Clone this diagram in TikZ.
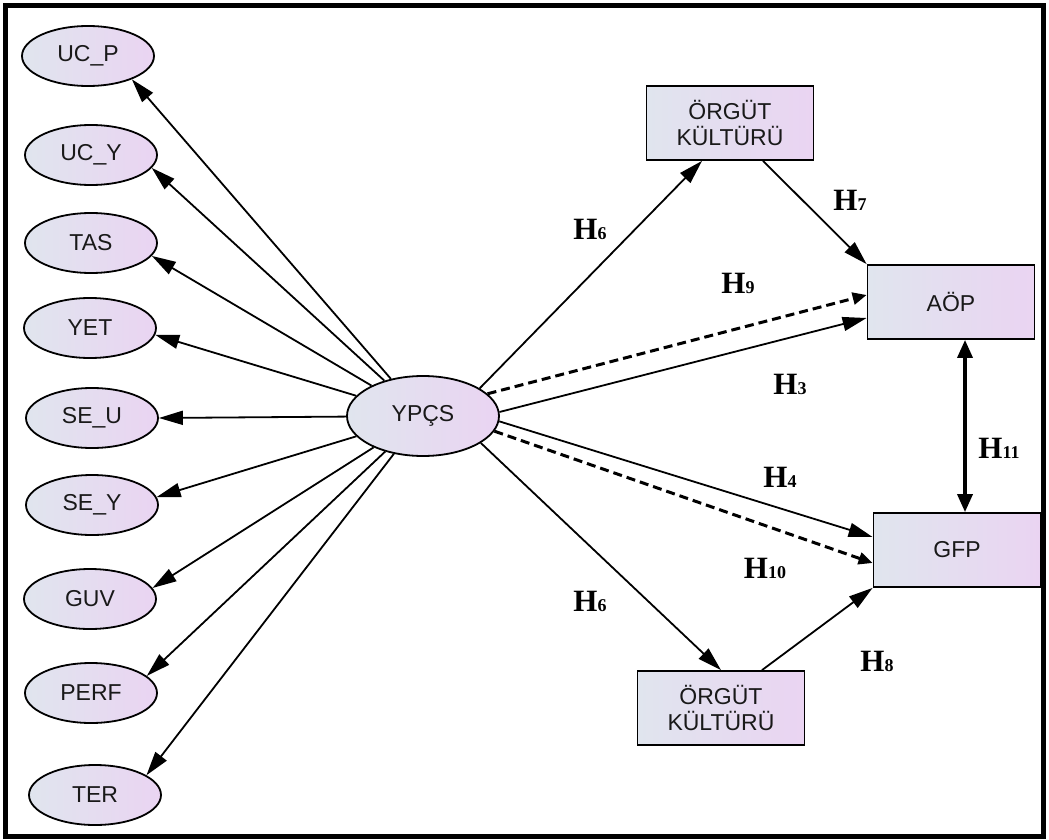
\documentclass[tikz,border=0pt]{standalone}
\usepackage{fontspec}
\setmainfont{Liberation Serif}
\setsansfont{Liberation Sans}
\usetikzlibrary{shapes.geometric,arrows.meta}
\definecolor{fillL}{RGB}{224,229,238}
\definecolor{fillR}{RGB}{234,212,242}
\definecolor{txt}{RGB}{25,25,25}
\newcommand\Hsub[1]{H{\fontsize{18}{18}\selectfont#1}}
\tikzset{
  latent/.style={ellipse, draw, line width=1.8pt, inner sep=0pt,
    minimum width=132pt, minimum height=60pt, left color=fillL, right color=fillR,
    font=\sffamily\fontsize{23}{26}\selectfont, text=txt},
  observed/.style={rectangle, draw, line width=1.8pt, inner sep=0pt,
    minimum width=167pt, minimum height=74pt, left color=fillL, right color=fillR,
    align=center, font=\sffamily\fontsize{23}{26}\selectfont, text=txt},
  path/.style={line width=1.8pt, -{Triangle[length=24pt,width=14pt]}},
  dpath/.style={line width=3pt, dash pattern=on 9pt off 5pt, -{Triangle[length=14pt,width=12pt]}},
  corr/.style={line width=3.5pt, {Triangle[length=18pt,width=15pt]}-{Triangle[length=18pt,width=15pt]}},
  hlab/.style={font=\bfseries\fontsize{31}{31}\selectfont, inner sep=0pt}
}
\begin{document}
\begin{tikzpicture}[x=1pt,y=-1pt]
\useasboundingbox (0,0) rectangle (1049,840);
\draw[line width=5pt] (5.5,5.5) rectangle (1043.5,836.5);

% indicators of the latent construct
\node[latent] (ucp)  at (88,56)  {UC\_P};
\node[latent] (ucy)  at (91,155) {UC\_Y};
\node[latent] (tas)  at (91,243) {TAS};
\node[latent] (yet)  at (90,328) {YET};
\node[latent] (seu)  at (92,418) {SE\_U};
\node[latent] (sey)  at (92,505) {SE\_Y};
\node[latent] (guv)  at (90,599) {GUV};
\node[latent] (perf) at (91,693) {PERF};
\node[latent] (ter)  at (95,795) {TER};

\node[latent, minimum width=152pt, minimum height=80pt] (ypcs) at (423,416) {YPÇS};

\node[observed] (ok1) at (730,123) {ÖRGÜT\\KÜLTÜRÜ};
\node[observed] (aop) at (951,302) {AÖP};
\node[observed] (gfp) at (957,550) {GFP};
\node[observed] (ok2) at (721,708) {ÖRGÜT\\KÜLTÜRÜ};

% measurement paths
\draw[path] (ypcs) -- (ucp.-28);
\draw[path] (ypcs) -- (ucy.-12);
\draw[path] (ypcs) -- (tas.-12);
\draw[path] (ypcs) -- (yet.-6);
\draw[path] (ypcs) -- (seu.0);
\draw[path] (ypcs) -- (sey.7);
\draw[path] (ypcs) -- (guv.10.5);
\draw[path] (ypcs) -- (perf.17);
\draw[path] (ypcs) -- (ter.21);

% structural paths
\draw[path] (ypcs.26) -- ([xshift=-28pt]ok1.south);
\draw[path] ([xshift=33pt]ok1.south) -- (aop.north west);
\draw[dpath] (ypcs.19) -- ([yshift=7pt]aop.west);
\draw[path] (ypcs.3) -- ([yshift=-16pt]aop.west);
\draw[path] (ypcs.-4.5) -- ([yshift=13pt]gfp.west);
\draw[dpath] (ypcs.-12.5) -- ([yshift=-13pt]gfp.west);
\draw[path] (ypcs.-25) -- (ok2.north);
\draw[path] ([xshift=41pt]ok2.north) -- (gfp.south west);
\draw[corr] ([xshift=14pt]aop.south) -- ([xshift=8pt]gfp.north);

% hypothesis labels
\node[hlab] (h6a) at (590,229) {\Hsub{6}};
\node[hlab] (h7)  at (850,200) {\Hsub{7}};
\node[hlab] (h9)  at (738,283) {\Hsub{9}};
\node[hlab] (h3)  at (790,384) {\Hsub{3}};
\node[hlab] (h11) at (999,448) {\Hsub{11}};
\node[hlab] (h4)  at (780,477) {\Hsub{4}};
\node[hlab] (h10) at (765,568) {\Hsub{10}};
\node[hlab] (h6b) at (590,601) {\Hsub{6}};
\node[hlab] (h8)  at (877,661) {\Hsub{8}};
\end{tikzpicture}
\end{document}
